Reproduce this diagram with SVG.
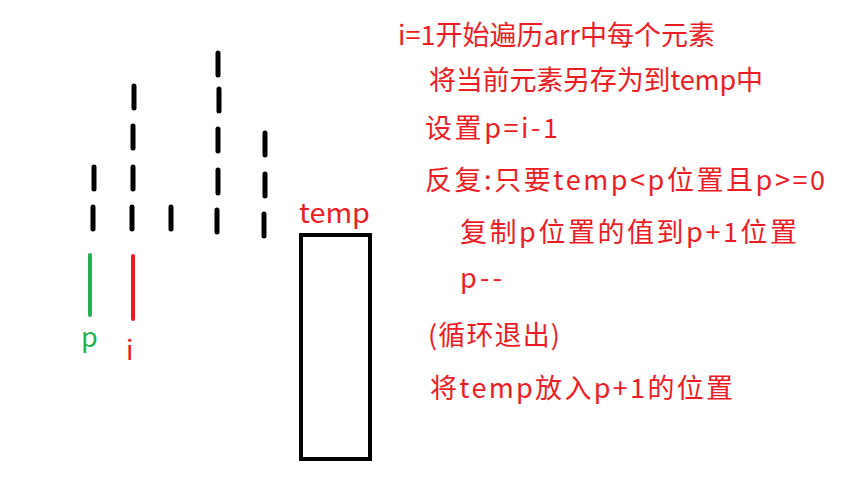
<svg xmlns="http://www.w3.org/2000/svg" width="860" height="483" viewBox="0 0 860 483">
<style>
.d{stroke:#000;stroke-width:5;stroke-linecap:round;fill:none}
.t{font-family:"Noto Sans CJK SC","Microsoft YaHei",sans-serif;font-size:27px;fill:#ED1C24}
</style>
<rect width="860" height="483" fill="#fff"/>
<g id="bars">
<path class="d" d="M94 167V189M93 207V229"/>
<path class="d" d="M134 86V108M133 126V148M133 167V189M132 207V229"/>
<path class="d" d="M171 207V229"/>
<path class="d" d="M218 53V75M219 89V111M218 129V151M218 170V193M217 210V232"/>
<path class="d" d="M265 133V155M265 174V196M264 214V236"/>
</g>
<g id="pointer-p">
<line x1="90" y1="255" x2="90" y2="315" stroke="#22B14C" stroke-width="4" stroke-linecap="round"/>
<text x="81" y="347" font-family="Noto Sans CJK SC,sans-serif" font-size="27" fill="#22B14C">p</text>
</g>
<g id="pointer-i">
<line x1="133" y1="256" x2="133" y2="319" stroke="#ED1C24" stroke-width="4" stroke-linecap="round"/>
<text x="126" y="360" class="t">i</text>
</g>
<g id="temp">
<rect x="301" y="235" width="69" height="224" fill="none" stroke="#000" stroke-width="4"/>
<text x="299" y="223" class="t" textLength="71" lengthAdjust="spacingAndGlyphs">temp</text>
</g>
<g id="steps">
<text class="t" x="398" y="45" textLength="317" lengthAdjust="spacing">i=1开始遍历arr中每个元素</text>
<text class="t" x="429" y="90" textLength="334" lengthAdjust="spacing">将当前元素另存为到temp中</text>
<text class="t" x="425" y="138" textLength="133" lengthAdjust="spacing">设置p=i-1</text>
<text class="t" x="425" y="190" textLength="400" lengthAdjust="spacing">反复:只要temp&lt;p位置且p&gt;=0</text>
<text class="t" x="460" y="242" textLength="337" lengthAdjust="spacing">复制p位置的值到p+1位置</text>
<text class="t" x="460" y="288" textLength="42" lengthAdjust="spacing">p--</text>
<text class="t" x="428" y="345" textLength="132" lengthAdjust="spacing">(循环退出)</text>
<text class="t" x="430" y="398" textLength="303" lengthAdjust="spacing">将temp放入p+1的位置</text>
</g>
</svg>
